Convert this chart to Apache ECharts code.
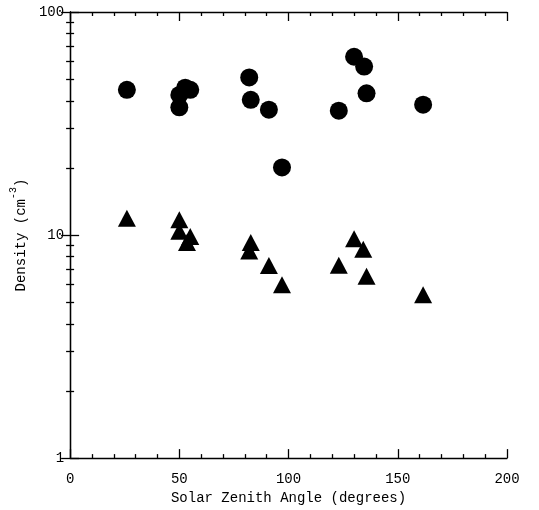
<!DOCTYPE html>
<html>
<head>
	<meta charset="UTF-8">
	<title>Density vs Solar Zenith Angle</title>
	<style>
		html, body { margin: 0; padding: 0; background: #fff; }
		#container { width: 539px; height: 510px; }
	</style>
</head>
<body>
	<div id="container"></div>
	<script src="https://cdn.jsdelivr.net/npm/echarts@6/dist/echarts.min.js"></script>
	<script>
		// circles (upper group)
		var circleAngle = [26, 50, 52.7, 55, 50, 82, 82.7, 91, 97, 123, 130, 134.6, 135.7, 161.6];
		var circleDensity = [44.8, 42.5, 45.8, 44.8, 37.4, 50.9, 40.4, 36.5, 20.1, 36.1, 63, 56.9, 43.2, 38.4];
		// triangles (lower group)
		var triAngle = [26, 50, 50, 53.5, 55, 82.7, 82, 91, 97, 123, 130, 134.2, 135.7, 161.6];
		var triDensity = [11.9, 11.7, 10.4, 9.27, 9.85, 9.27, 8.49, 7.3, 5.98, 7.33, 9.63, 8.63, 6.53, 5.4];

		function pairs(xs, ys) {
			var out = [];
			for (var i = 0; i < xs.length; i++) out.push([xs[i], ys[i]]);
			return out;
		}

		var font = '"Liberation Mono", monospace';
		var lineStyle = { color: '#000', width: 1.3 };

		function xAxisDef(pos, labels) {
			return {
				type: 'value', position: pos, min: 0, max: 200, interval: 50,
				axisLine: { show: true, lineStyle: lineStyle },
				axisTick: { show: true, inside: true, length: 9, lineStyle: lineStyle },
				minorTick: { show: true, splitNumber: 5, length: 4, lineStyle: lineStyle },
				axisLabel: { show: labels, margin: 14, fontFamily: font, fontSize: 14, color: '#000' },
				splitLine: { show: false }
			};
		}
		function yAxisDef(pos, labels) {
			return {
				type: 'log', logBase: 10, min: 1, max: 100, position: pos,
				axisLine: { show: true, lineStyle: lineStyle },
				axisTick: { show: true, inside: true, length: 9, lineStyle: lineStyle },
				minorTick: { show: true, splitNumber: 9, length: 4, lineStyle: lineStyle },
				axisLabel: { show: labels, margin: 6, fontFamily: font, fontSize: 14, color: '#000' },
				splitLine: { show: false }
			};
		}

		var xBottom = xAxisDef('bottom', true);
		xBottom.name = 'Solar Zenith Angle (degrees)';
		xBottom.nameLocation = 'middle';
		xBottom.nameGap = 30;
		xBottom.nameTextStyle = { fontFamily: font, fontSize: 14, color: '#000' };

		var yLeft = yAxisDef('left', true);
		yLeft.name = '{a|Density (cm}{s|-3}{a|)}';
		yLeft.nameLocation = 'middle';
		yLeft.nameGap = 40;
		yLeft.nameRotate = 90;
		yLeft.nameTextStyle = {
			rich: {
				a: { fontFamily: font, fontSize: 14, color: '#000', lineHeight: 20, verticalAlign: 'bottom' },
				s: { fontFamily: font, fontSize: 10, color: '#000', lineHeight: 20, verticalAlign: 'top' }
			}
		};

		var myChart = echarts.init(document.getElementById('container'));
		var option = {
			animation: false,
			grid: { left: 70, top: 12, right: 32, bottom: 47 },
			xAxis: [xBottom, xAxisDef('top', false)],
			yAxis: [yLeft, yAxisDef('right', false)],
			series: [
				{
					name: 'circles', type: 'scatter', xAxisIndex: 0, yAxisIndex: 0,
					symbol: 'circle', symbolSize: 18,
					itemStyle: { color: '#000', opacity: 1 },
					data: pairs(circleAngle, circleDensity)
				},
				{
					name: 'triangles', type: 'scatter', xAxisIndex: 0, yAxisIndex: 0,
					symbol: 'triangle', symbolSize: [18, 17],
					itemStyle: { color: '#000', opacity: 1 },
					data: pairs(triAngle, triDensity)
				}
			]
		};
		myChart.setOption(option);
	</script>
</body>
</html>
